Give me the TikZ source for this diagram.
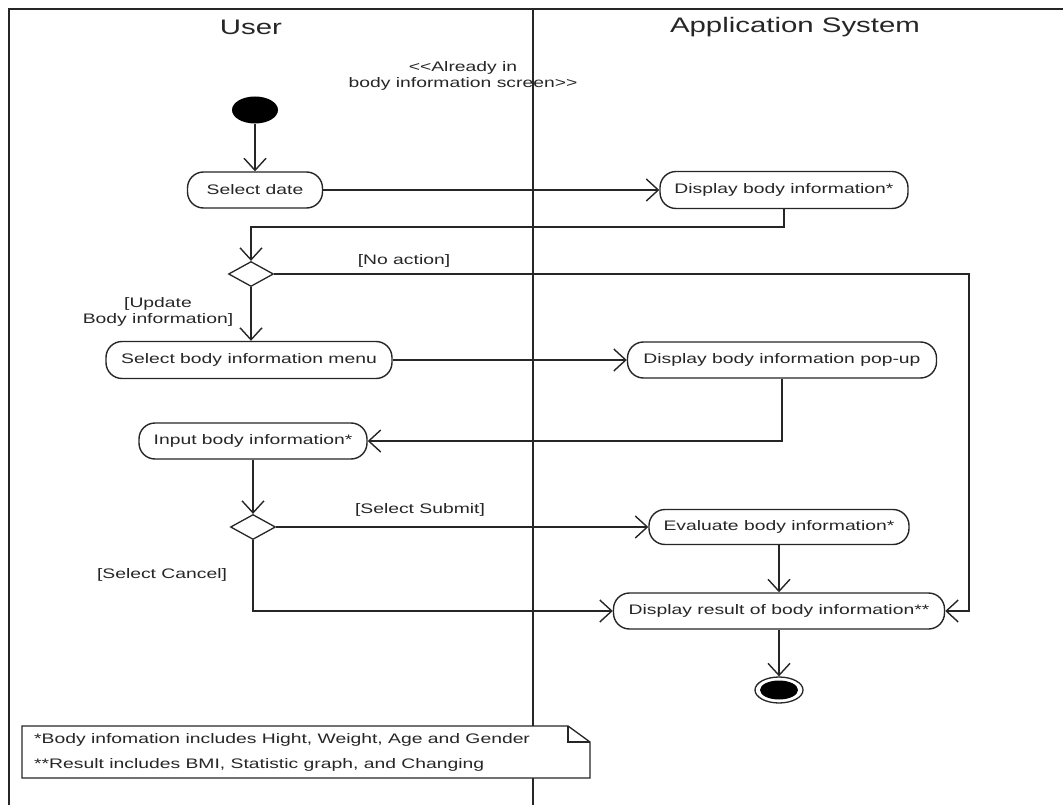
\documentclass[tikz,border=0pt]{standalone}
\usepackage{fontspec}
\usetikzlibrary{shapes.geometric,arrows.meta,calc}
\newfontfamily\diafont{Liberation Sans}[FakeStretch=1.4]
\begin{document}
\begin{tikzpicture}[x=1pt,y=-1pt,
  ink/.style={draw=black!85},
  lbl/.style={font=\diafont\fontsize{13.8}{16}\selectfont, text=black!85, inner sep=0pt},
  head/.style={font=\diafont\fontsize{21}{24}\selectfont, text=black!85, inner sep=0pt},
  act/.style={ink, line width=1.4pt, rounded corners=16pt, fill=white,
    minimum height=36pt, inner sep=0pt, font=\diafont\fontsize{13.8}{16}\selectfont, text=black!85},
  choice/.style={ink, line width=1.3pt, diamond, aspect=1.8, fill=white,
    minimum width=45pt, minimum height=25pt, inner sep=0pt},
  flow/.style={ink, line width=1.5pt, -{Straight Barb[length=12pt,width=22pt,line width=1.4pt]}},
  plain/.style={ink, line width=1.5pt}
]
\useasboundingbox (0,0) rectangle (1063,805);

% swimlane frame
\draw[line width=2.2pt, black!85] (9,805) -- (9,9) -- (1063,9);
\draw[line width=1.8pt, black!85] (533,9) -- (533,805);

% lane headers
\node[head] (hUser) at (251,27) {User};
\node[head] (hSys) at (795,27) {Application System};

% precondition stereotype
\node[lbl, align=center] (pre) at (463,76) {<<Already in\\body information screen>>};

% initial and final states
\node[ellipse, fill=black, minimum width=46pt, minimum height=27pt, inner sep=0pt] (start) at (255,110) {};
\node[ellipse, ink, line width=1.3pt, fill=white, minimum width=48pt, minimum height=26pt, inner sep=0pt] (stop) at (779,690) {};
\fill[black] (stop.center) ellipse (19pt and 9.5pt);

% activities
\node[act, minimum width=135pt] (selDate) at (255,190) {Select date};
\node[act, minimum width=248pt, minimum height=37pt] (dispInfo) at (784,190) {Display body information*};
\node[choice] (dec1) at (251,274) {};
\node[act, minimum width=286pt, minimum height=37pt] (selMenu) at (249,360) {Select body information menu};
\node[act, minimum width=309pt] (popup) at (782,360) {Display body information pop-up};
\node[act, minimum width=228pt] (input) at (253,441) {Input body information*};
\node[choice] (dec2) at (253,527) {};
\node[act, minimum width=260pt, minimum height=35pt] (evalInfo) at (779,527) {Evaluate body information*};
\node[act, minimum width=331pt] (result) at (779,611) {Display result of body information**};

% guard labels
\node[lbl] (gNo) at (404,261) {[No action]};
\node[lbl, align=center] (gUpd) at (158,312) {[Update\\Body information]};
\node[lbl] (gSub) at (420,510) {[Select Submit]};
\node[lbl] (gCan) at (162,575) {[Select Cancel]};

% control flow
\coordinate (noAct) at (969,274);
\draw[flow] (start) -- (selDate);
\draw[flow] (selDate) -- (dispInfo);
\draw[flow] (dispInfo.south) -- ++(0,18) -| (dec1.north);
\draw[flow] (dec1.east) -- (noAct) |- (result.east);
\draw[flow] (dec1.south) -- (dec1.south |- selMenu.north);
\draw[flow] (selMenu) -- (popup);
\draw[flow] (popup.south) |- (input.east);
\draw[flow] (input) -- (dec2);
\draw[flow] (dec2) -- (evalInfo);
\draw[flow] (dec2.south) |- (result.west);
\draw[flow] (evalInfo) -- (result);
\draw[flow] (result) -- (stop);

% footnote comment with folded corner
\draw[ink, line width=1.3pt, fill=white] (22,726) -- (568,726) -- (590,742) -- (590,778) -- (22,778) -- cycle;
\draw[ink, line width=1.3pt] (568,726) -- (568,742) -- (590,742);
\node[lbl, anchor=west] (n1) at (34,740) {*Body infomation includes Hight, Weight, Age and Gender};
\node[lbl, anchor=west] (n2) at (34,765) {**Result includes BMI, Statistic graph, and Changing};
\end{tikzpicture}
\end{document}
